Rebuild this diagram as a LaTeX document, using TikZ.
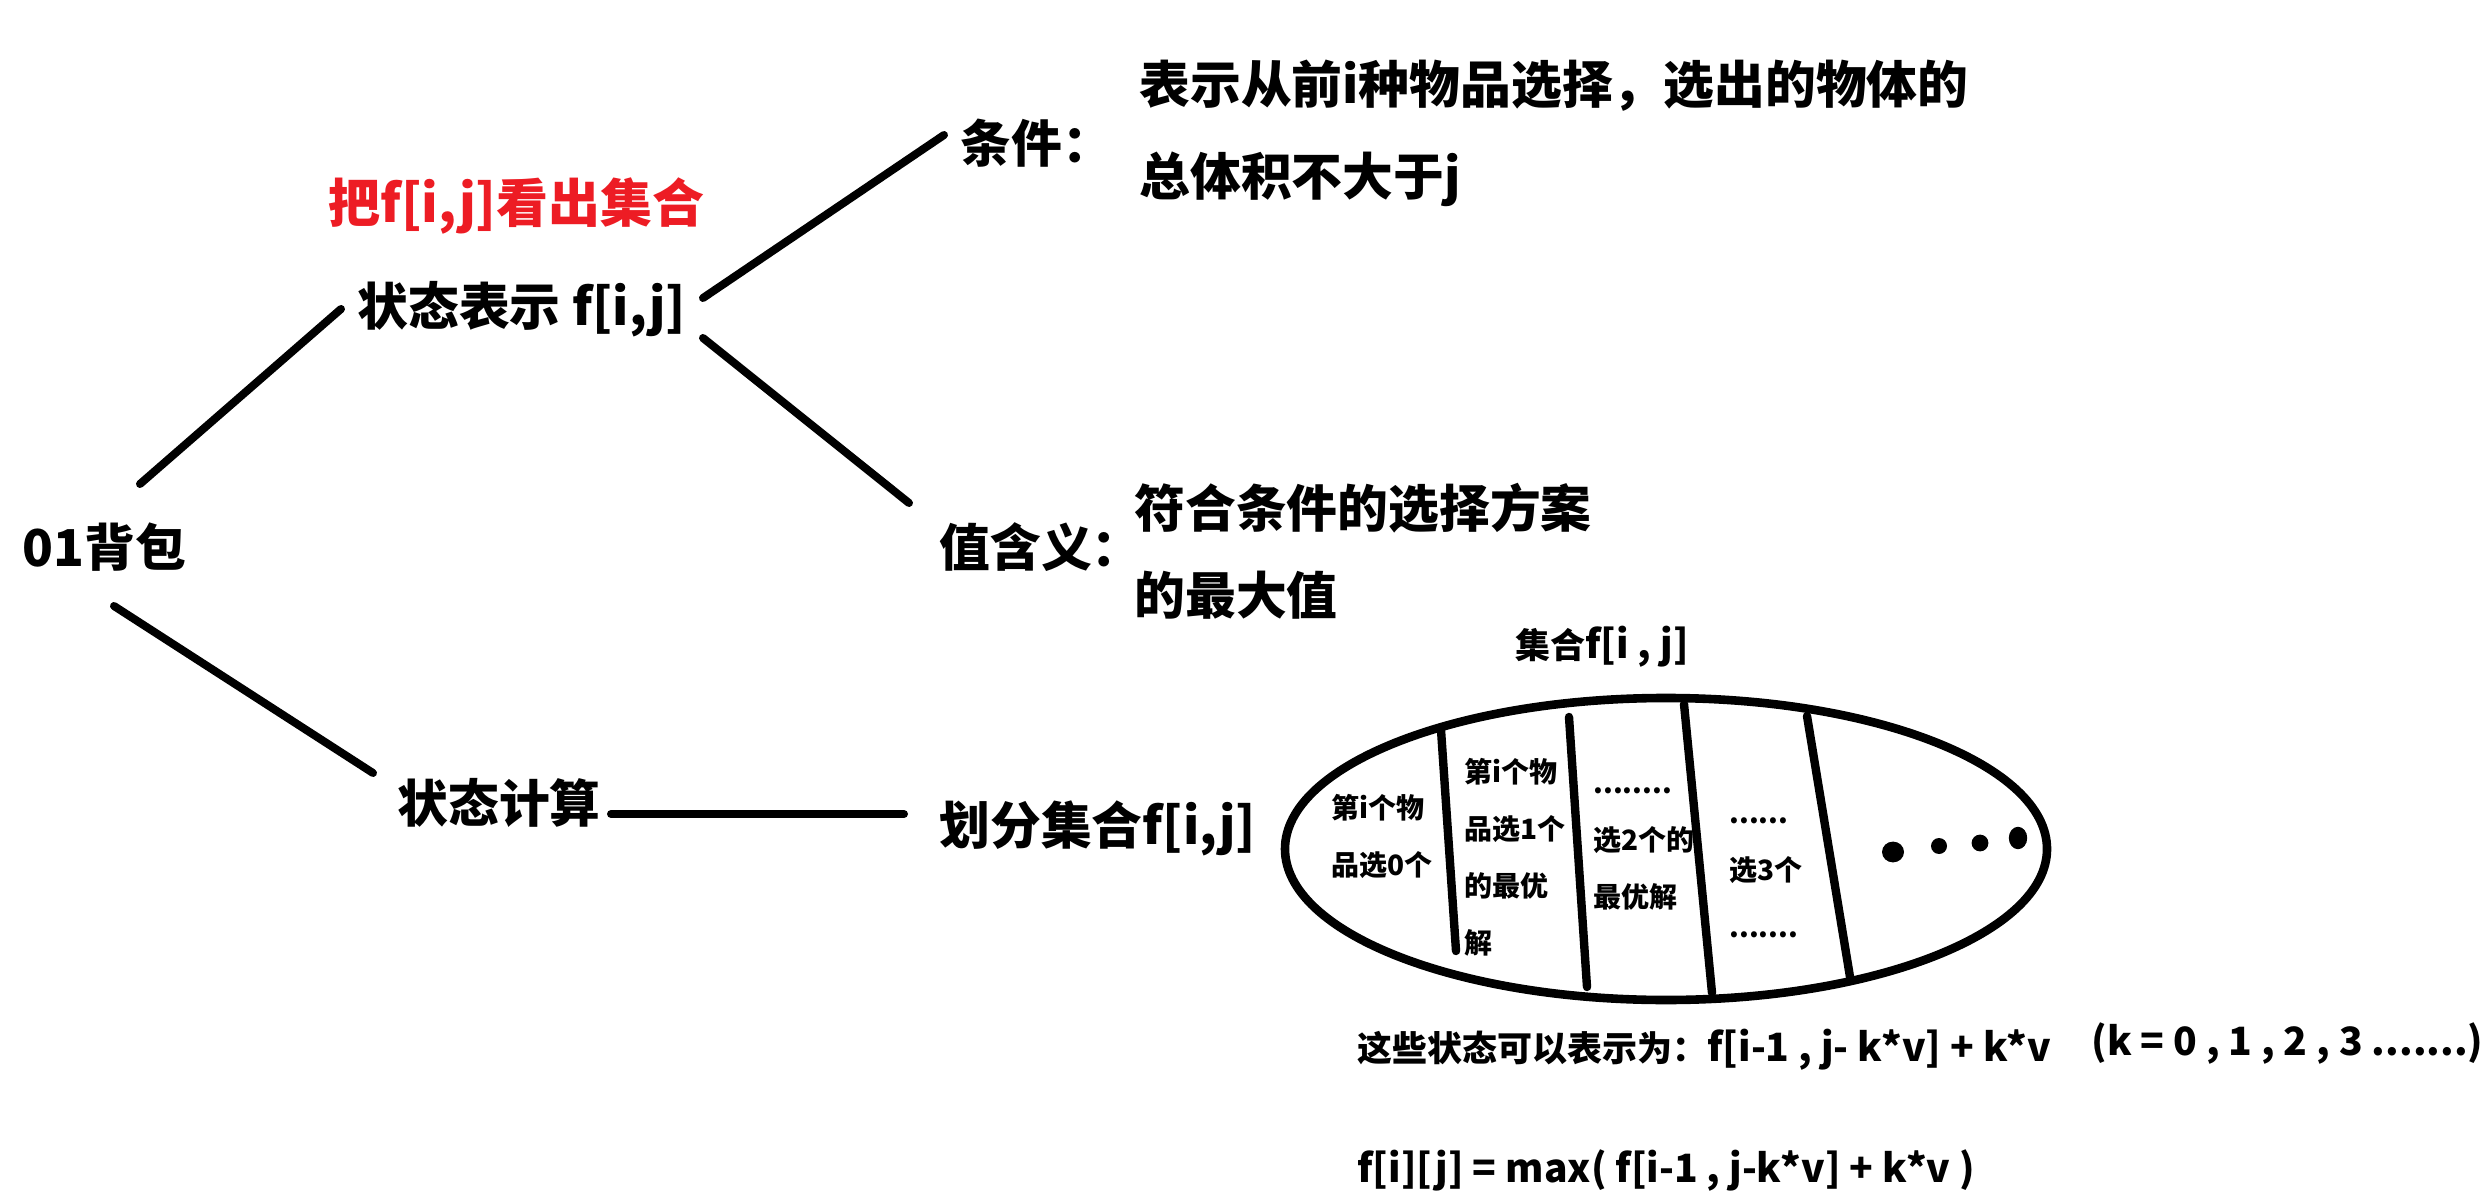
\documentclass[tikz,border=0pt]{standalone}
\usepackage{fontspec}
\setmainfont{Noto Sans CJK SC}
\definecolor{tred}{RGB}{237,28,36}
\newcommand{\latbig}{\fontsize{19.5}{22}\selectfont}
\tikzset{
  lbl/.style={inner sep=0pt, anchor=west, font=\bfseries\fontsize{25.4}{46}\selectfont, align=left},
  small/.style={inner sep=0pt, anchor=west, font=\bfseries\fontsize{14}{28.5}\selectfont, align=left},
  mid/.style={inner sep=0pt, anchor=west, font=\bfseries\fontsize{17.5}{22}\selectfont},
  conn/.style={line width=4pt, line cap=round},
  divider/.style={line width=4.2pt, line cap=round},
}
\begin{document}
\begin{tikzpicture}[x=0.5pt,y=-0.5pt]
\fill[white] (0,0) rectangle (2488,1197);
\useasboundingbox (0,0) rectangle (2488,1197);

% main nodes
\node[lbl] (bag) at (22,547) {01背包};
\node[lbl] (state) at (357,309) {状态表示 f[i,j]};
\node[lbl, text=tred, font=\bfseries\fontsize{26}{46}\selectfont] (red) at (328,206) {把f[i,j]看出集合};
\node[lbl] (cond) at (960,143) {条件：};
\node[lbl] (condtxt) at (1139,133) {表示从前i种物品选择，选出的物体的\\总体积不大于j};
\node[lbl] (val) at (939,547) {值含义：};
\node[lbl, font=\bfseries\fontsize{25.4}{43.5}\selectfont] (valtxt) at (1134,551) {符合条件的选择方案\\的最大值};
\node[lbl] (calc) at (397,803) {状态计算};
\node[lbl] (split) at (939,828) {划分集合f[i,j]};

% connectors
\coordinate (c1a) at (140,484); \coordinate (c1b) at (341,309);
\coordinate (c2a) at (703,298); \coordinate (c2b) at (944,135);
\coordinate (c3a) at (703,338); \coordinate (c3b) at (909,503);
\coordinate (c4a) at (114,606); \coordinate (c4b) at (373,773);
\coordinate (c5a) at (611,814); \coordinate (c5b) at (904,814);
\draw[conn] (c1a) -- (c1b);
\draw[conn] (c2a) -- (c2b);
\draw[conn] (c3a) -- (c3b);
\draw[conn] (c4a) -- (c4b);
\draw[conn] (c5a) -- (c5b);

% set ellipse
\node[mid] (settitle) at (1515,647) {集合{\latbig f[i , j]}};
\coordinate (ec) at (1666,849);
\draw[line width=4.3pt] (ec) ellipse [x radius=190.5pt, y radius=75.5pt];
\coordinate (d1a) at (1441,730); \coordinate (d1b) at (1456,951);
\coordinate (d2a) at (1569,717); \coordinate (d2b) at (1587,987);
\coordinate (d3a) at (1684,704); \coordinate (d3b) at (1712,993);
\coordinate (d4a) at (1807,716); \coordinate (d4b) at (1850,977);
\draw[divider] (d1a) -- (d1b);
\draw[divider] (d2a) -- (d2b);
\draw[divider] (d3a) -- (d3b);
\draw[divider] (d4a) -- (d4b);

\node[small] (col1) at (1331,836) {第i个物\\品选0个};
\node[small] (col2) at (1464,857) {第i个物\\品选1个\\的最优\\解};
\node[small] (col3) at (1593,849) {........\\选2个的\\最优解};
\node[small] (col4) at (1729,878) {......\\选3个\\.......};

\coordinate (p1) at (1893,852); \coordinate (p2) at (1939,846);
\coordinate (p3) at (1980,843); \coordinate (p4) at (2018,838);
\fill (p1) ellipse [x radius=5.5pt, y radius=5.2pt];
\fill (p2) ellipse [x radius=4pt, y radius=4pt];
\fill (p3) ellipse [x radius=4.2pt, y radius=4.2pt];
\fill (p4) ellipse [x radius=4.6pt, y radius=5.6pt];

% formulas
\node[mid] (these) at (1357,1050) {这些状态可以表示为：{\latbig f[i-1 , j- k*v] + k*v}};
\node[mid, font=\bfseries\latbig] (kvals) at (2091,1044) {(k = 0 , 1 , 2 , 3 .......)};
\node[mid, font=\bfseries\latbig] (maxf) at (1357,1171) {f[i][j] = max( f[i-1 , j-k*v] + k*v )};
\end{tikzpicture}
\end{document}
